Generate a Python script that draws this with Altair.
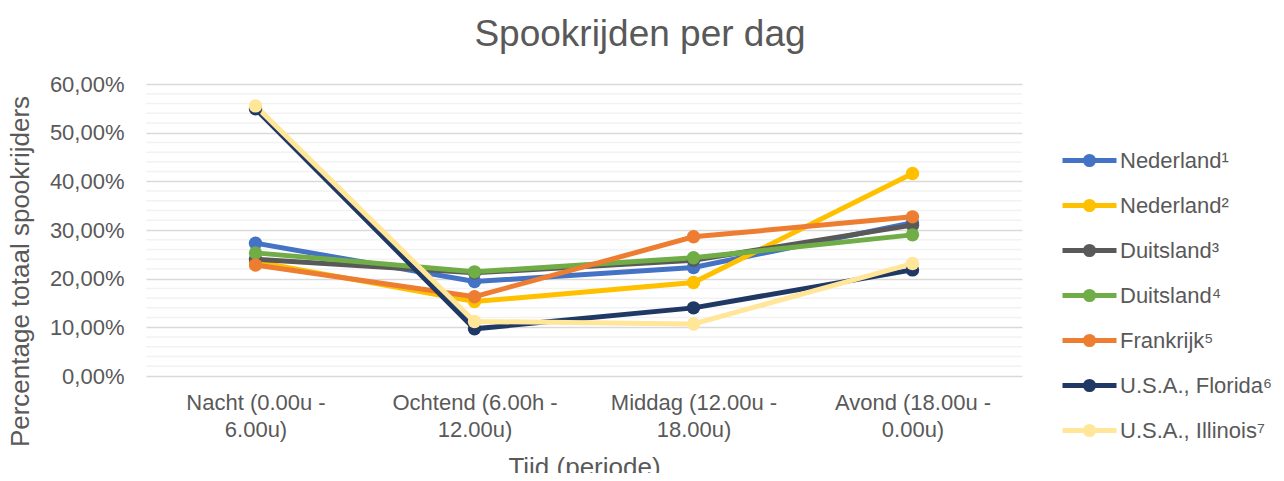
import altair as alt
import pandas as pd

categories = ["Nacht (0.00u -|6.00u)", "Ochtend (6.00h -|12.00u)",
              "Middag (12.00u -|18.00u)", "Avond (18.00u -|0.00u)"]
series = ["Nederland¹", "Nederland²", "Duitsland³", "Duitsland⁴",
          "Frankrijk⁵", "U.S.A., Florida⁶", "U.S.A., Illinois⁷"]
colors = ["#4472C4", "#FFC000", "#595959", "#70AD47",
          "#ED7D31", "#203864", "#FFE699"]

nederland1 = [0.273, 0.194, 0.223, 0.315]
nederland2 = [0.235, 0.153, 0.192, 0.416]
duitsland3 = [0.240, 0.212, 0.238, 0.310]
duitsland4 = [0.253, 0.214, 0.243, 0.290]
frankrijk5 = [0.228, 0.163, 0.286, 0.327]
florida6 = [0.549, 0.097, 0.140, 0.218]
illinois7 = [0.555, 0.112, 0.107, 0.231]

values = [nederland1, nederland2, duitsland3, duitsland4, frankrijk5, florida6, illinois7]

major_ticks = [0, 0.1, 0.2, 0.3, 0.4, 0.5, 0.6]
minor_grid = [v / 100 for v in range(2, 61, 2) if v % 10 != 0]

rows = []
for si, (name, vals) in enumerate(zip(series, values)):
    for c, v in zip(categories, vals):
        rows.append({"serie": name, "tijd": c, "waarde": v, "idx": si})
df = pd.DataFrame(rows)

font = "Liberation Sans"
grey = "#595959"

x_enc = alt.X("tijd:N", sort=categories, scale=alt.Scale(type="point", padding=0.5),
              axis=alt.Axis(title="Tijd (periode)", labelExpr="split(datum.label, '|')",
                            labelAngle=0, labelFontSize=22, labelColor=grey, labelFont=font,
                            labelLineHeight=27, labelPadding=16, ticks=False, domain=False,
                            grid=False, titleFontSize=26, titleColor=grey, titleFont=font,
                            titleFontWeight="normal", titleX=438, titleY=91,
                            titleBaseline="middle", titleAlign="center"))
y_scale = alt.Scale(domain=[0, 0.6], nice=False)
y_axis = alt.Axis(title="Percentage totaal spookrijders", values=major_ticks,
                  labelExpr="replace(format(datum.value, '.2%'), '.', ',')",
                  labelFontSize=22, labelColor=grey, labelFont=font, labelPadding=22,
                  ticks=False, domain=False, gridColor="#d9d9d9", gridWidth=1.5,
                  titleFontSize=26, titleColor=grey, titleFont=font,
                  titleFontWeight="normal", titleX=-126, titleY=187, titleAngle=270,
                  titleBaseline="middle", titleAlign="center")
y_enc = alt.Y("waarde:Q", scale=y_scale, axis=y_axis)

color_enc = alt.Color("serie:N", sort=series,
                      scale=alt.Scale(domain=series, range=colors),
                      legend=alt.Legend(title=None, orient="none", legendX=926, legendY=59,
                                        symbolType="M-1.8,0H1.8M0.27,0A0.27,0.27 0 1,1 -0.27,0A0.27,0.27 0 1,1 0.27,0",
                                        symbolSize=900, symbolStrokeWidth=5, labelOffset=13,
                                        rowPadding=13, labelFontSize=22, labelColor=grey,
                                        labelFont=font, padding=0, labelLimit=300))

grid = alt.Chart(pd.DataFrame({"g": minor_grid})).mark_rule(color="#f2f2f2", strokeWidth=1.5).encode(
    y=alt.Y("g:Q", scale=y_scale, axis=y_axis)
)

lines = alt.Chart(df).mark_line(strokeWidth=5).encode(
    x=x_enc, y=y_enc, color=color_enc, order="idx:Q"
)
points = alt.Chart(df).mark_circle(size=180, opacity=1).encode(
    x=x_enc, y=y_enc, color=color_enc, order="idx:Q"
)

chart = alt.layer(grid, lines, points).properties(
    width=876, height=292,
    title=alt.Title("Spookrijden per dag", fontSize=37, color=grey, font=font,
                    fontWeight="normal", anchor="middle", dx=56, offset=19),
    autosize=alt.AutoSizeParams(type="none"),
    padding={"left": 138, "top": 76, "right": 254, "bottom": 97},
).configure_view(stroke=None)

chart.save("out.html", embed_options={"renderer": "svg", "actions": False})
